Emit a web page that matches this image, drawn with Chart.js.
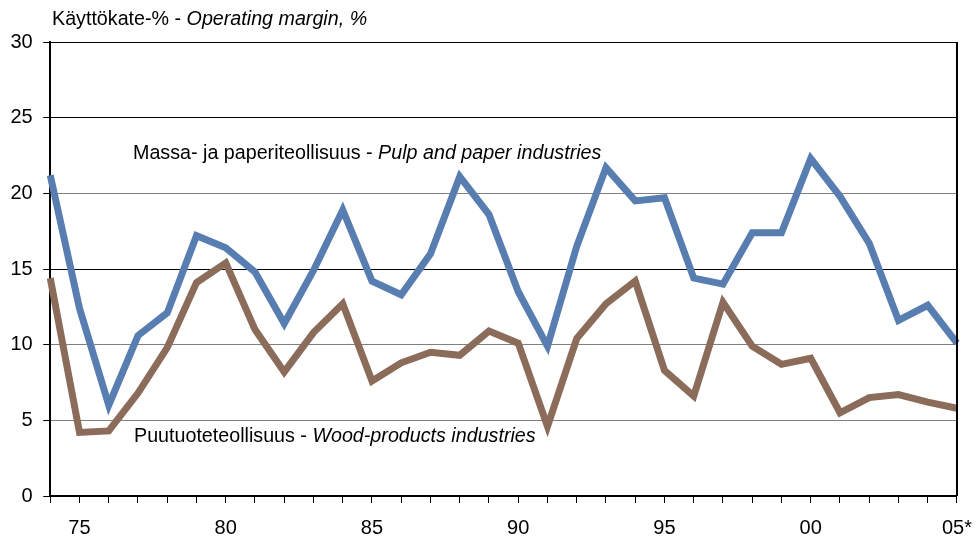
<!DOCTYPE html>
<html>
<head>
<meta charset="utf-8">
<script src="https://cdn.jsdelivr.net/npm/chart.js@4"></script>
<style>
html, body { margin: 0; padding: 0; background: #fff; }
#wrap { width: 976px; height: 542px; }
</style>
</head>
<body>
<div id="wrap"><canvas id="margin_chart"></canvas></div>
<script>
// operating margin, % by year
var years = [1974, 1975, 1976, 1977, 1978, 1979, 1980, 1981, 1982, 1983,
             1984, 1985, 1986, 1987, 1988, 1989, 1990, 1991, 1992, 1993,
             1994, 1995, 1996, 1997, 1998, 1999, 2000, 2001, 2002, 2003,
             2004, 2005];
var pulpPaper = [21.2, 12.4, 6.0, 10.6, 12.1, 17.2, 16.4, 14.8, 11.4, 14.9,
                 18.9, 14.2, 13.3, 16.0, 21.1, 18.6, 13.5, 9.9, 16.5, 21.7,
                 19.5, 19.7, 14.4, 14.0, 17.4, 17.4, 22.3, 19.8, 16.7, 11.6,
                 12.6, 10.1];
var woodProducts = [14.4, 4.2, 4.3, 6.8, 9.8, 14.1, 15.4, 11.0, 8.2, 10.8,
                    12.7, 7.6, 8.8, 9.5, 9.3, 10.9, 10.1, 4.6, 10.4, 12.7,
                    14.2, 8.3, 6.6, 12.8, 9.9, 8.7, 9.1, 5.5, 6.5, 6.7,
                    6.2, 5.8];
var xLabelYears = [1975, 1980, 1985, 1990, 1995, 2000, 2005];
var xLabelText = ['75', '80', '85', '90', '95', '00', '05*'];

var FONT = '"Liberation Sans", Arial, sans-serif';

// normal + italic text on one line
function drawMixed(ctx, x, y, plain, italic, size) {
    ctx.textBaseline = 'middle';
    ctx.textAlign = 'left';
    ctx.fillStyle = '#000';
    ctx.font = size + 'px ' + FONT;
    ctx.fillText(plain, x, y);
    var w = ctx.measureText(plain).width;
    ctx.font = 'italic ' + size + 'px ' + FONT;
    ctx.fillText(italic, x + w, y);
}

var textPlugin = {
    id: 'frameTexts',
    afterDraw: function (chart) {
        var ctx = chart.ctx;
        var a = chart.chartArea;
        ctx.save();
        // right edge of the frame
        ctx.strokeStyle = '#000';
        ctx.lineWidth = 2;
        ctx.beginPath();
        ctx.moveTo(a.right, a.top);
        ctx.lineTo(a.right, a.bottom);
        ctx.stroke();

        drawMixed(ctx, 52, 20, 'Käyttökate-% - ', 'Operating margin, %', 19.7);
        drawMixed(ctx, 133, 154, 'Massa- ja paperiteollisuus - ', 'Pulp and paper industries', 19.7);
        drawMixed(ctx, 134, 437, 'Puutuoteteollisuus - ', 'Wood-products industries', 19.7);
        ctx.restore();
    }
};

var ctx = document.getElementById('margin_chart');
var myChart = new Chart(ctx, {
    type: 'line',
    data: {
        labels: years,
        datasets: [{
            label: 'Massa- ja paperiteollisuus',
            data: pulpPaper,
            borderColor: '#587db0',
            borderWidth: 7,
            pointRadius: 0,
            tension: 0
        }, {
            label: 'Puutuoteteollisuus',
            data: woodProducts,
            borderColor: '#8b6c5a',
            borderWidth: 7,
            pointRadius: 0,
            tension: 0
        }]
    },
    options: {
        responsive: true,
        maintainAspectRatio: false,
        animation: false,
        layout: {
            padding: { top: 42, right: 0, left: 0, bottom: -11 }
        },
        plugins: {
            legend: { display: false },
            tooltip: { enabled: false }
        },
        scales: {
            x: {
                type: 'category',
                offset: false,
                grid: {
                    display: true,
                    drawOnChartArea: false,
                    offset: false,
                    tickLength: 7,
                    tickColor: '#000',
                    lineWidth: 1
                },
                border: { display: true, color: '#000', width: 2 },
                ticks: {
                    autoSkip: false,
                    maxRotation: 0,
                    padding: 4,
                    color: '#000',
                    font: { family: FONT, size: 20, lineHeight: 2.1 },
                    callback: function (value, index) {
                        var i = xLabelYears.indexOf(years[index]);
                        return i >= 0 ? xLabelText[i] : '';
                    }
                }
            },
            y: {
                min: 0,
                max: 30,
                grid: {
                    tickLength: 7,
                    tickColor: '#000',
                    lineWidth: 1,
                    color: function (c) {
                        var v = c.tick && c.tick.value;
                        return (v === 15 || v === 25 || v === 30) ? '#000' : '#808080';
                    }
                },
                border: { display: true, color: '#000', width: 2 },
                ticks: {
                    stepSize: 5,
                    padding: 10.5,
                    color: '#000',
                    font: { family: FONT, size: 20 }
                }
            }
        }
    },
    plugins: [textPlugin]
});
</script>
</body>
</html>
